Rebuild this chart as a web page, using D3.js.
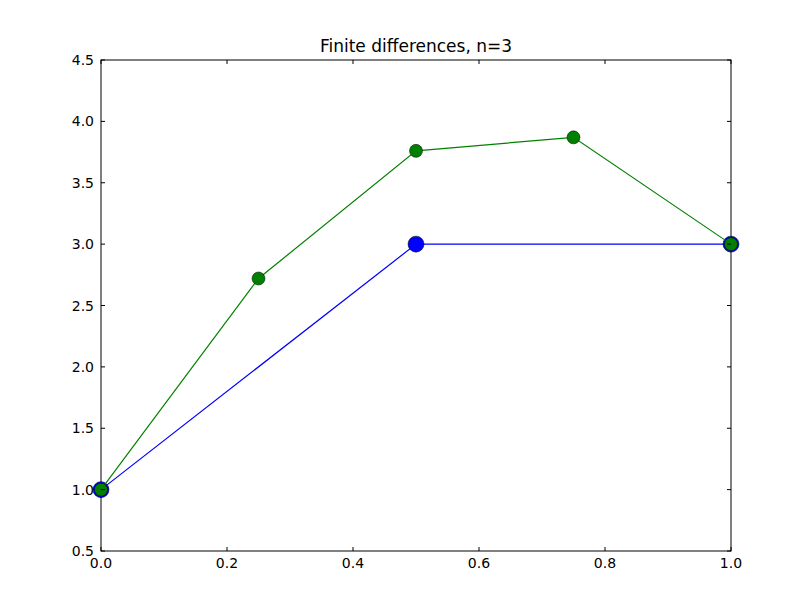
<!DOCTYPE html>
<html><head><meta charset="utf-8">
<script src="https://cdn.jsdelivr.net/npm/d3@7"></script>
<style>body{margin:0;background:#fff}text{font-family:"DejaVu Sans",sans-serif}</style>
</head><body>
<svg id="c" width="812" height="612"></svg>
<script>
const blueX=[0,0.5,1], blueY=[1,3,3];
const greenX=[0,0.25,0.5,0.75,1], greenY=[1,2.72,3.76,3.87,3];
const xTicks=[0,0.2,0.4,0.6,0.8,1.0];
const yTicks=[0.5,1.0,1.5,2.0,2.5,3.0,3.5,4.0,4.5];
const svg=d3.select("#c");
const L=101,R=731,T=60,B=551;
const x=d3.scaleLinear().domain([0,1]).range([L,R]);
const y=d3.scaleLinear().domain([0.5,4.5]).range([B,T]);
svg.append("rect").attr("width",812).attr("height",612).attr("fill","#fff");
function series(X,Y,col,r){
  const pts=X.map((v,i)=>[v,Y[i]]);
  svg.append("path").attr("d",d3.line().x(d=>x(d[0])).y(d=>y(d[1]))(pts)).attr("fill","none").attr("stroke",col).attr("stroke-width",1.2);
  svg.selectAll(null).data(pts).enter().append("circle").attr("cx",d=>x(d[0])).attr("cy",d=>y(d[1])).attr("r",r).attr("fill",col).attr("stroke","#000").attr("stroke-width",0.5);
}
svg.append("rect").attr("x",L).attr("y",T).attr("width",R-L).attr("height",B-T).attr("fill","none").attr("stroke","#000");
series(blueX,blueY,"#0000ff",8);
series(greenX,greenY,"#008000",6.5);
const g=svg.append("g");
xTicks.forEach(t=>{
  g.append("line").attr("x1",x(t)).attr("x2",x(t)).attr("y1",B).attr("y2",B-4).attr("stroke","#000");
  g.append("line").attr("x1",x(t)).attr("x2",x(t)).attr("y1",T).attr("y2",T+4).attr("stroke","#000");
  g.append("text").attr("x",x(t)).attr("y",B+17).attr("text-anchor","middle").attr("font-size",14).text(t.toFixed(1));
});
yTicks.forEach(t=>{
  g.append("line").attr("y1",y(t)).attr("y2",y(t)).attr("x1",L).attr("x2",L+4).attr("stroke","#000");
  g.append("line").attr("y1",y(t)).attr("y2",y(t)).attr("x1",R).attr("x2",R-4).attr("stroke","#000");
  g.append("text").attr("x",L-7).attr("y",y(t)+5).attr("text-anchor","end").attr("font-size",14).text(t.toFixed(1));
});
svg.append("text").attr("x",(L+R)/2).attr("y",T-8).attr("text-anchor","middle").attr("font-size",17).text("Finite differences, n=3");
</script>
</body></html>
